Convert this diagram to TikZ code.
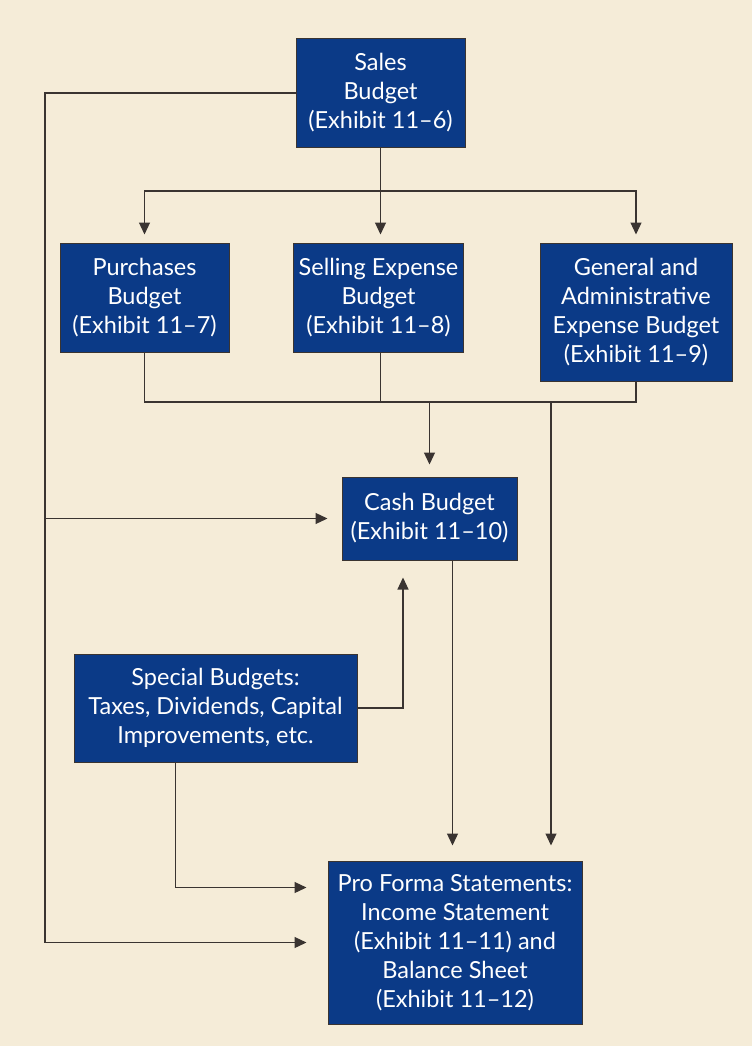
\documentclass[tikz,border=0pt]{standalone}
\usepackage{fontspec}
\setmainfont{Lato}
\usepackage{tikz}
\usetikzlibrary{arrows.meta}
\usetikzlibrary{positioning}
\definecolor{bgbeige}{HTML}{F5ECD8}
\definecolor{boxblue}{HTML}{0B3A87}
\definecolor{linegray}{HTML}{3A3431}
\tikzset{
  bbox/.style={draw=linegray, line width=1pt, fill=boxblue, text=white, align=center,
    inner sep=0pt, font=\fontsize{23.5}{29}\selectfont},
  conn/.style={draw=linegray, line width=1.2pt},
  arr/.style={conn, -{Triangle[length=12pt,width=11pt]}, shorten >=#1},
  arr/.default=10pt
}

\begin{document}
\begin{tikzpicture}[x=1pt, y=-1pt]
    \fill[bgbeige] (0,0) rectangle (752,1046);
    \useasboundingbox (0,0) rectangle (752,1046);
    \node[bbox, minimum width=169pt, minimum height=108pt] (sales) at (380.5,93) {Sales\\Budget\\(Exhibit 11--6)};
    \node[bbox, minimum width=169pt, minimum height=109pt] (purch) at (144.5,297.5) {Purchases\\Budget\\(Exhibit 11--7)};
    \node[bbox, minimum width=170pt, minimum height=109pt] (sell) at (378.5,297.5) {Selling Expense\\Budget\\(Exhibit 11--8)};
    \node[bbox, minimum width=192pt, minimum height=138pt] (gna) at (636,312) {General and\\Administrative\\Expense Budget\\(Exhibit 11--9)};
    \node[bbox, minimum width=175pt, minimum height=83pt] (cash) at (429.5,518.5) {Cash Budget\\(Exhibit 11--10)};
    \node[bbox, minimum width=283pt, minimum height=108pt] (special) at (215.5,708) {Special Budgets:\\Taxes, Dividends, Capital\\Improvements, etc.};
    \node[bbox, minimum width=254pt, minimum height=163pt] (proforma) at (455,942.5) {Pro Forma Statements:\\Income Statement\\(Exhibit 11--11) and\\Balance Sheet\\(Exhibit 11--12)};
    \coordinate (top) at (0,191);
    \coordinate (mid) at (0,402);
    \coordinate (rail) at (45,942.5);
    \coordinate (gnadrop) at (551,402);
    \coordinate (cashin) at (403,0);
    \draw[arr=8pt] (sales.south) -- (sales.south |- top) -| (purch.north);
    \draw[arr=8pt] (sales.south |- top) -| (gna.north);
    \draw[arr=8pt] (sales.south) -- (sales.south |- sell.north);
    \draw[conn] (purch.south) |- (gna.south |- mid) -- (gna.south);
    \draw[conn] (sales.south |- sell.south) -- (sales.south |- mid);
    \draw[arr=12pt] (cash.north |- mid) -- (cash.north);
    \draw[arr=15pt] (gnadrop) -- (gnadrop |- proforma.north);
    \draw[arr=21pt] (sales.west) -| (rail) -- (proforma.west);
    \draw[arr=14pt] (rail |- cash.west) -- (cash.west);
    \draw[arr=17pt] (special.east) -| (cashin |- cash.south);
    \draw[arr=15pt] ([xshift=23pt]cash.south) -- ([xshift=23pt]cash.south |- proforma.north);
    \draw[arr=21pt] ([xshift=-40pt]special.south) |- ([yshift=55pt]proforma.west);
\end{tikzpicture}
\end{document}
